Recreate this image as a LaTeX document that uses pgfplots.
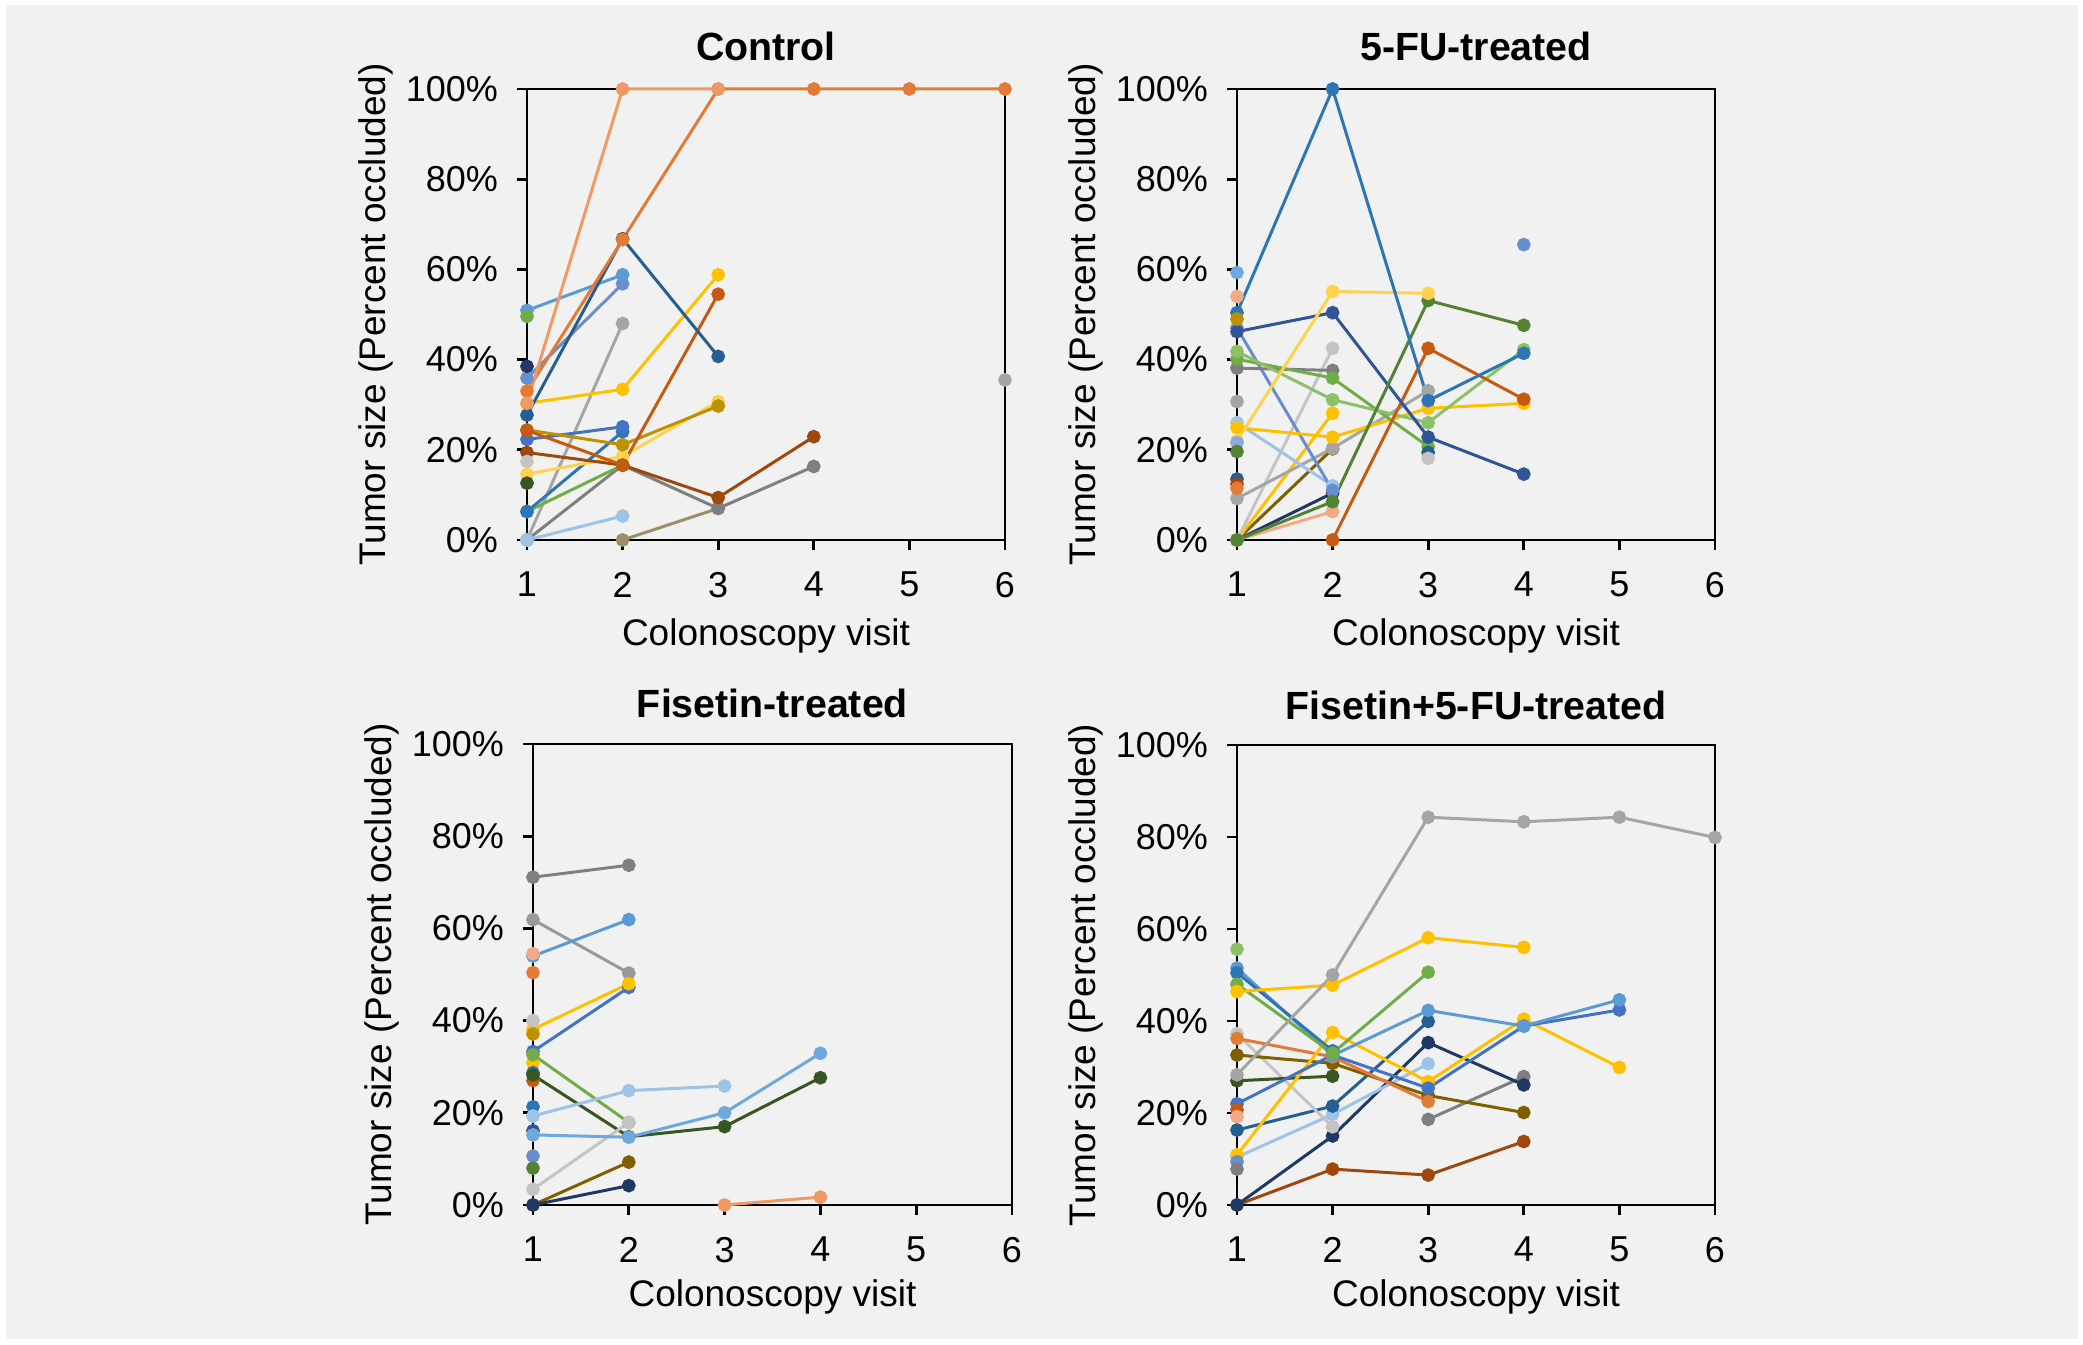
\documentclass[border=0pt]{standalone}
\usepackage{pgfplots}
\pgfplotsset{compat=1.18}
\usepackage{fontspec}
\setmainfont{Liberation Sans}
\definecolor{bg}{HTML}{F0F1F0}
\definecolor{lorange}{HTML}{EE9A62}
\definecolor{orange}{HTML}{E37A35}
\definecolor{dorange}{HTML}{C55A11}
\definecolor{salmon}{HTML}{F2AA84}
\definecolor{brown}{HTML}{9E480E}
\definecolor{dblue}{HTML}{255E91}
\definecolor{lblue}{HTML}{5B9BD5}
\definecolor{mblue}{HTML}{698ED0}
\definecolor{blue}{HTML}{4472C4}
\definecolor{blueb}{HTML}{2E75B6}
\definecolor{navy}{HTML}{203864}
\definecolor{navyb}{HTML}{2F5597}
\definecolor{pblue}{HTML}{9DC3E6}
\definecolor{sblue}{HTML}{6FA8DC}
\definecolor{bgray}{HTML}{8EA9DB}
\definecolor{green}{HTML}{70AD47}
\definecolor{lgreen}{HTML}{8CC168}
\definecolor{dgreen}{HTML}{548235}
\definecolor{ddgreen}{HTML}{375623}
\definecolor{gray}{HTML}{A5A5A5}
\definecolor{dgray}{HTML}{7F7F7F}
\definecolor{mgray}{HTML}{999999}
\definecolor{lgray}{HTML}{C4C4C4}
\definecolor{yellow}{HTML}{FFC000}
\definecolor{lyellow}{HTML}{FFD24D}
\definecolor{gold}{HTML}{BF9000}
\definecolor{olive}{HTML}{7F6000}
\definecolor{oliveg}{HTML}{9C8E6A}
\pgfplotsset{
 panel/.style={
  scale only axis, clip=false,
  xmin=1,xmax=6,ymin=0,ymax=100,
  xtick={1,...,6}, ytick={0,20,...,100},
  yticklabel={\pgfmathprintnumber{\tick}\%},
  /pgf/number format/assume math mode=true,
  tick pos=left, tick align=outside, major tick length=3pt,
  axis line style={line width=0.8pt, black},
  every tick/.style={black, line width=0.8pt},
  tick label style={font=\fontsize{10.8}{12}\selectfont},
  label style={font=\fontsize{11.1}{13}\selectfont},
  title style={font=\fontsize{11.8}{13}\selectfont\bfseries, at={(axis description cs:0.5,1.094)}, anchor=center, yshift=-6pt},
  xlabel={Colonoscopy visit}, ylabel={Tumor size (Percent occluded)},
  xlabel style={at={(axis description cs:0.5,-0.213)}, anchor=center},
  ylabel style={at={(axis description cs:-0.316,0.5)}, anchor=center},
  yticklabel style={xshift=-2.2pt},
  xticklabel style={yshift=-3.1pt},
 },
 s/.style={color=#1, mark=*, mark size=1.6pt, line width=0.9pt, mark options={solid, fill=#1, draw=#1}},
}
\begin{document}
\begin{tikzpicture}
\fill[white] (0pt,0pt) rectangle (624.9pt,403.5pt);
\fill[bg] (1.8pt,1.8pt) rectangle (623.4pt,402pt);
% ---------- Control ----------
\begin{axis}[panel, at={(158.1pt,241.5pt)}, anchor=south west, width=143.4pt, height=135.3pt, title={Control}]
\addplot[s=gray] coordinates {(1,0)(2,48)};
\addplot[s=oliveg] coordinates {(2,0)(3,7)};
\addplot[s=dgray] coordinates {(1,0)(2,16.6)(3,7)(4,16.3)};
\addplot[s=pblue] coordinates {(1,0)(2,5.3)};
\addplot[s=green] coordinates {(1,6.3)(2,16.6)};
\addplot[s=blueb] coordinates {(1,6.3)(2,24)};
\addplot[s=blue] coordinates {(1,22.3)(2,25.1)};
\addplot[s=lyellow] coordinates {(1,14.6)(2,18.5)(3,30.7)};
\addplot[s=gold] coordinates {(1,24.4)(2,21.1)(3,29.7)};
\addplot[s=brown] coordinates {(1,19.4)(2,16.6)(3,9.4)(4,22.9)};
\addplot[s=dorange] coordinates {(1,24.3)(2,16.6)(3,54.5)};
\addplot[s=yellow] coordinates {(1,30.3)(2,33.4)(3,58.8)};
\addplot[s=mblue] coordinates {(1,35.9)(2,56.8)};
\addplot[s=lblue] coordinates {(1,50.9)(2,58.8)};
\addplot[s=dblue] coordinates {(1,27.7)(2,66.8)(3,40.7)};
\addplot[s=orange] coordinates {(1,33)(2,66.6)(3,100)(4,100)(5,100)(6,100)};
\addplot[s=lorange] coordinates {(1,30.3)(2,100)(3,100)};
\addplot[s=green] coordinates {(1,49.6)};
\addplot[s=navy] coordinates {(1,38.5)};
\addplot[s=ddgreen] coordinates {(1,12.6)};
\addplot[s=lgray] coordinates {(1,17.4)};
\addplot[s=gray] coordinates {(6,35.5)};
\end{axis}
% ---------- 5-FU ----------
\begin{axis}[panel, at={(371.1pt,241.5pt)}, anchor=south west, width=143.4pt, height=135.3pt, title={5-FU-treated}]
\addplot[s=salmon] coordinates {(1,0)(2,6.3)};
\addplot[s=navy] coordinates {(1,0)(2,10.4)};
\addplot[s=olive] coordinates {(1,0)(2,20.2)};
\addplot[s=yellow] coordinates {(1,0)(2,28.1)};
\addplot[s=lgray] coordinates {(1,0)(2,42.5)};
\addplot[s=gray] coordinates {(1,9.2)(2,20.3)(3,33.1)};
\addplot[s=pblue] coordinates {(1,26)(2,12)};
\addplot[s=mblue] coordinates {(1,47)(2,11)};
\addplot[s=yellow] coordinates {(1,24.9)(2,22.8)(3,29.2)(4,30.3)};
\addplot[s=dgray] coordinates {(1,38.1)(2,37.6)};
\addplot[s=green] coordinates {(1,40.1)(2,35.9)(3,20.7)};
\addplot[s=lgreen] coordinates {(1,41.8)(2,31.1)(3,26)(4,42.2)};
\addplot[s=dorange] coordinates {(2,0)(3,42.5)(4,31.2)};
\addplot[s=navyb] coordinates {(1,46.2)(2,50.4)(3,22.8)(4,14.6)};
\addplot[s=dgreen] coordinates {(1,0)(2,8.5)(3,53.1)(4,47.6)};
\addplot[s=lyellow] coordinates {(1,22)(2,55.1)(3,54.7)};
\addplot[s=blueb] coordinates {(1,50.4)(2,100)(3,30.9)(4,41.4)};
\addplot[s=sblue] coordinates {(1,59.3)};
\addplot[s=salmon] coordinates {(1,54)};
\addplot[s=gold] coordinates {(1,49)};
\addplot[s=gray] coordinates {(1,30.7)};
\addplot[s=bgray] coordinates {(1,21.6)};
\addplot[s=dgreen] coordinates {(1,19.6)};
\addplot[s=dblue] coordinates {(1,13.5)};
\addplot[s=brown] coordinates {(1,12.4)};
\addplot[s=orange] coordinates {(1,11.5)};
\addplot[s=dblue] coordinates {(3,19.4)};
\addplot[s=lgray] coordinates {(3,18.1)};
\addplot[s=mblue] coordinates {(4,65.5)};
\end{axis}
% ---------- Fisetin ----------
\begin{axis}[panel, at={(159.9pt,42pt)}, anchor=south west, width=143.7pt, height=138.3pt, title={Fisetin-treated}, title style={at={(axis description cs:0.5,1.087)}}, xlabel style={at={(axis description cs:0.5,-0.2)}}]
\addplot[s=dgray] coordinates {(1,71.1)(2,73.7)};
\addplot[s=mgray] coordinates {(1,61.9)(2,50.3)};
\addplot[s=lblue] coordinates {(1,54)(2,61.9)};
\addplot[s=salmon] coordinates {(1,54.5)};
\addplot[s=orange] coordinates {(1,50.4)};
\addplot[s=blue] coordinates {(1,33.3)(2,47.2)};
\addplot[s=yellow] coordinates {(1,38.1)(2,48)};
\addplot[s=lgray] coordinates {(1,40)};
\addplot[s=gold] coordinates {(1,37.1)};
\addplot[s=yellow] coordinates {(1,30.8)};
\addplot[s=blueb] coordinates {(1,28.7)};
\addplot[s=dorange] coordinates {(1,27)};
\addplot[s=blueb] coordinates {(1,21.3)};
\addplot[s=navyb] coordinates {(1,16.1)};
\addplot[s=mblue] coordinates {(1,10.6)};
\addplot[s=dgreen] coordinates {(1,8)};
\addplot[s=ddgreen] coordinates {(1,28.2)(2,14.8)(3,17)(4,27.6)};
\addplot[s=green] coordinates {(1,32.6)(2,17.9)};
\addplot[s=pblue] coordinates {(1,19.3)(2,24.8)(3,25.8)};
\addplot[s=lgray] coordinates {(1,3.4)(2,17.9)};
\addplot[s=sblue] coordinates {(1,15.2)(2,14.7)(3,20)(4,32.9)};
\addplot[s=olive] coordinates {(1,0)(2,9.3)};
\addplot[s=navy] coordinates {(1,0)(2,4.2)};
\addplot[s=lorange] coordinates {(3,0)(4,1.7)};
\end{axis}
% ---------- Fisetin+5-FU ----------
\begin{axis}[panel, at={(371.1pt,42pt)}, anchor=south west, width=143.4pt, height=138pt, title={Fisetin+5-FU-treated}, title style={at={(axis description cs:0.5,1.087)}}, xlabel style={at={(axis description cs:0.5,-0.2)}}]
\addplot[s=brown] coordinates {(1,0)(2,7.8)(3,6.5)(4,13.8)};
\addplot[s=dgray] coordinates {(3,18.6)(4,27.9)};
\addplot[s=navy] coordinates {(1,0)(2,15)(3,35.3)(4,26.1)};
\addplot[s=pblue] coordinates {(1,10.4)(2,19.7)(3,30.7)};
\addplot[s=dblue] coordinates {(1,16.3)(2,21.5)(3,39.9)};
\addplot[s=lgray] coordinates {(1,37.2)(2,17)};
\addplot[s=ddgreen] coordinates {(1,27)(2,28)};
\addplot[s=olive] coordinates {(1,32.6)(2,30.8)(3,23.8)(4,20.1)};
\addplot[s=orange] coordinates {(1,36.2)(2,32.2)(3,22.5)};
\addplot[s=yellow] coordinates {(1,10.9)(2,37.5)(3,26.8)(4,40.4)(5,29.9)};
\addplot[s=blue] coordinates {(1,22)(2,32.6)(3,25.4)(4,38.9)(5,42.4)};
\addplot[s=lblue] coordinates {(1,51.5)(2,32.5)(3,42.3)(4,38.9)(5,44.6)};
\addplot[s=blueb] coordinates {(1,50.5)(2,33.5)};
\addplot[s=green] coordinates {(1,48)(2,33)(3,50.6)};
\addplot[s=lgreen] coordinates {(1,55.6)};
\addplot[s=yellow] coordinates {(1,46.4)(2,47.8)(3,58.1)(4,56)};
\addplot[s=gray] coordinates {(1,28.3)(2,50)(3,84.3)(4,83.3)(5,84.3)(6,79.9)};
\addplot[s=dorange] coordinates {(1,20.7)};
\addplot[s=salmon] coordinates {(1,19.2)};
\addplot[s=mblue] coordinates {(1,9.4)};
\addplot[s=dgray] coordinates {(1,7.8)};
\end{axis}
\end{tikzpicture}
\end{document}
